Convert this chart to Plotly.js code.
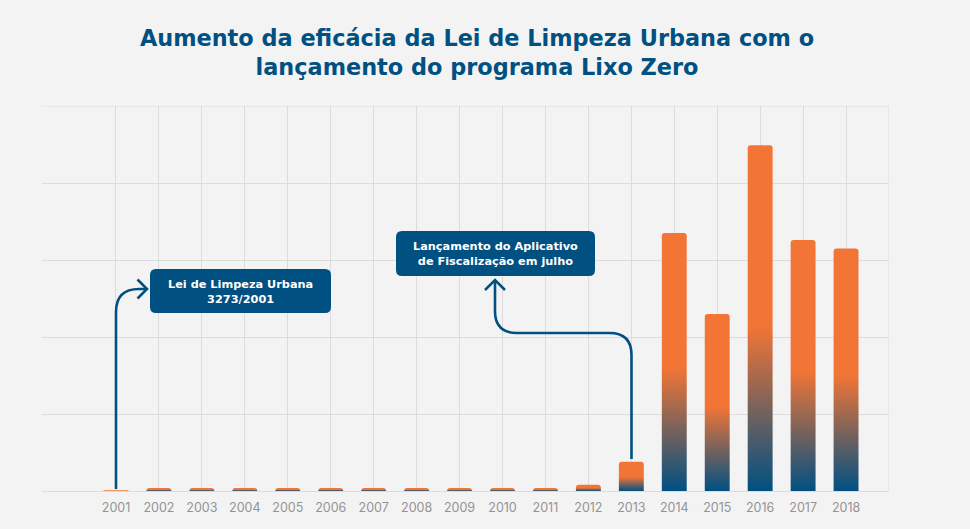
<!DOCTYPE html>
<html>
<head>
<meta charset="utf-8">
<script src="https://cdn.plot.ly/plotly-3.0.1.min.js"></script>
<style>
html,body{margin:0;padding:0;background:#f3f3f3;}
#chart{width:970px;height:529px;}
</style>
</head>
<body>
<div id="chart"></div>
<script>
// ---- data ----
const years = [2001,2002,2003,2004,2005,2006,2007,2008,2009,2010,2011,2012,2013,2014,2015,2016,2017,2018];
const values = [1,4,4,4,4,4,4,4,4,4,4,8,38,335,230,449,326,315];
const tickLabels = ["2001","2002","2003","2004","2005","2006","2007","2008","2009","2010","2011","2012","2013","2014","2015","2016","2017","2018",""];
const tickYears = [2001,2002,2003,2004,2005,2006,2007,2008,2009,2010,2011,2012,2013,2014,2015,2016,2017,2018,2019];
const titleText = "Aumento da eficácia da Lei de Limpeza Urbana com o<br>lançamento do programa Lixo Zero";
const note1 = "Lei de Limpeza Urbana<br>3273/2001";
const note2 = "Lançamento do Aplicativo<br>de Fiscalização em julho";

// ---- layout geometry ----
const W = 970, H = 529;
const M = {l:42, r:81, t:106, b:38};
const X0 = 1999.277, X1 = 2019.0;
const Y0 = 0, Y1 = 500;
const pw = W - M.l - M.r, ph = H - M.t - M.b;
// convert canvas pixel positions (for decorations) into data coordinates
const tx = px => X0 + (px - M.l) / pw * (X1 - X0);
const ty = py => Y0 + (H - M.b - py) / ph * (Y1 - Y0);
const pathOf = (cmds) => cmds.map(c => {
  if (c === 'Z') return 'Z';
  const [op, ...pts] = c;
  let s = op;
  for (let i = 0; i < pts.length; i += 2) s += (i ? ' ' : '') + tx(pts[i]) + ',' + ty(pts[i+1]);
  return s;
}).join(' ');
const roundBox = (x0, y0, x1, y1, r) => pathOf([
  ['M', x0 + r, y0], ['L', x1 - r, y0], ['Q', x1, y0, x1, y0 + r],
  ['L', x1, y1 - r], ['Q', x1, y1, x1 - r, y1], ['L', x0 + r, y1],
  ['Q', x0, y1, x0, y1 - r], ['L', x0, y0 + r], ['Q', x0, y0, x0 + r, y0], 'Z'
]);

const BLUE = '#005082';
const ORANGE = '#f37535';
const GRID = '#dcdcdc';
const lineStyle = {color: BLUE, width: 2.6};

const shapes = [
  // top border grid line and right border grid line (range ends)
  {type:'line', xref:'x', yref:'y', x0:X0, x1:X1, y0:Y1, y1:Y1, line:{color:GRID, width:1}, layer:'below'},
  {type:'line', xref:'x', yref:'y', x0:X1, x1:X1, y0:Y0, y1:Y1, line:{color:GRID, width:1}, layer:'below'},
  // box 1
  {type:'path', xref:'x', yref:'y', path: roundBox(150, 269, 331, 313, 6), fillcolor: BLUE, line:{width:0}, layer:'above'},
  // box 2
  {type:'path', xref:'x', yref:'y', path: roundBox(396, 231, 595, 276, 6), fillcolor: BLUE, line:{width:0}, layer:'above'},
  // arrow 1 (from 2001 to box 1)
  {type:'path', xref:'x', yref:'y', path: pathOf([['M',116,489],['L',116,312],['Q',116,289,139,289],['L',146.5,289]]), line: lineStyle},
  {type:'path', xref:'x', yref:'y', path: pathOf([['M',137.5,279.5],['L',147,289],['L',137.5,298.5]]), line: lineStyle},
  // arrow 2 (from 2013 to box 2)
  {type:'path', xref:'x', yref:'y', path: pathOf([['M',631.5,459],['L',631.5,355],['Q',631.5,333,609.5,333],['L',517,333],['Q',495,333,495,311],['L',495,281]]), line: lineStyle},
  {type:'path', xref:'x', yref:'y', path: pathOf([['M',485,290],['L',495,280],['L',505,290]]), line: lineStyle}
];

const annFont = {family:'"DejaVu Sans", sans-serif', size:11.3, color:'#ffffff', weight:700};
const annotations = [
  {xref:'x', yref:'y', x: tx(240.5), y: ty(292), text: '<b>'+note1+'</b>', showarrow:false, font: annFont, align:'center', xanchor:'center', yanchor:'middle'},
  {xref:'x', yref:'y', x: tx(495.5), y: ty(254), text: '<b>'+note2+'</b>', showarrow:false, font: annFont, align:'center', xanchor:'center', yanchor:'middle'}
];

const trace = {
  type:'bar', x: years, y: values, width: 0.58,
  marker:{color: ORANGE, line:{width:0}},
  hoverinfo:'x+y'
};

const layout = {
  width: W, height: H,
  margin: M,
  paper_bgcolor:'#f3f3f3', plot_bgcolor:'#f3f3f3',
  title:{text:'<b>'+titleText+'</b>', font:{family:'"DejaVu Sans", sans-serif', size:22.4, color: BLUE}, x:477/W, xanchor:'center', y: 1 - 46/H, yref:'container', yanchor:'middle'},
  barcornerradius: 3,
  showlegend:false,
  xaxis:{range:[X0, X1], tickmode:'array', tickvals: tickYears, ticktext: tickLabels,
         showgrid:true, gridcolor:GRID, gridwidth:1, zeroline:false, showline:false,
         ticks:'', ticklabelstandoff: 7, tickfont:{family:'Inter, sans-serif', size:12.5, color:'#939393'}, fixedrange:true},
  yaxis:{range:[Y0, Y1], dtick:100, showgrid:true, gridcolor:GRID, gridwidth:1,
         showticklabels:false, zeroline:true, zerolinecolor:GRID, zerolinewidth:1, showline:false, fixedrange:true},
  shapes: shapes,
  annotations: annotations
};

function applyGradient(gd){
  const svg = gd.querySelector('svg.main-svg');
  if (!svg) return;
  let defs = svg.querySelector('defs');
  if (!defs) { defs = document.createElementNS('http://www.w3.org/2000/svg','defs'); svg.insertBefore(defs, svg.firstChild); }
  if (!defs.querySelector('#barGrad')) {
    const g = document.createElementNS('http://www.w3.org/2000/svg','linearGradient');
    g.setAttribute('id','barGrad');
    g.setAttribute('x1','0'); g.setAttribute('y1','0'); g.setAttribute('x2','0'); g.setAttribute('y2','1');
    [[0, ORANGE],[0.52, ORANGE],[1, BLUE]].forEach(([o,c]) => {
      const s = document.createElementNS('http://www.w3.org/2000/svg','stop');
      s.setAttribute('offset', o); s.setAttribute('stop-color', c);
      g.appendChild(s);
    });
    defs.appendChild(g);
  }
  gd.querySelectorAll('.barlayer .point path').forEach(p => { p.style.fill = 'url(#barGrad)'; });
}

Plotly.newPlot('chart', [trace], layout, {displayModeBar:false, staticPlot:true}).then(gd => {
  applyGradient(gd);
  gd.on('plotly_afterplot', () => applyGradient(gd));
});
</script>
</body>
</html>
